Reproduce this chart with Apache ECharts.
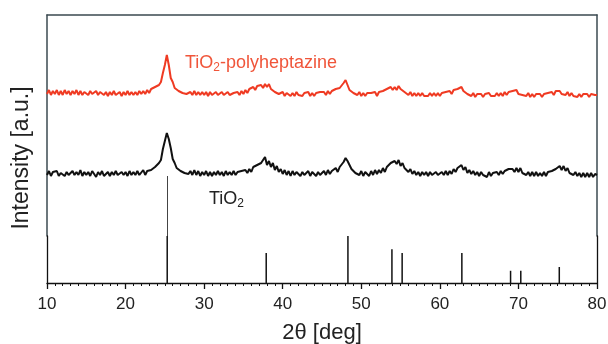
<!DOCTYPE html>
<html>
<head>
<meta charset="utf-8">
<script src="https://cdn.jsdelivr.net/npm/echarts@6/dist/echarts.min.js"></script>
<style>
  html, body { margin: 0; padding: 0; background: #fff; }
  #chart { width: 608px; height: 344px; }
</style>
</head>
<body>
<div id="chart"></div>
<script>
// 2theta scan, one reading every 0.25 deg from 10 to 80
const thetaStart = 10;
const thetaStep = 0.25;

// TiO2 trace (a.u.)
const tio2 = [
  61, 65, 60, 64,  62, 65, 60, 63,  65, 60, 64, 61,  60, 65, 61, 64,
  61, 66, 60, 64,  61, 64, 60, 65,  62, 59, 64, 61,  65, 60, 62, 64,
  60, 64, 61, 65,  61, 59, 64, 61,  64, 60, 65, 61,  64, 61, 65, 61,
  63, 66, 61, 65,  63, 66, 65, 69,  68, 73, 76, 87,  95, 103, 97, 88,
  77, 73, 68, 68,  65, 66, 63, 65,  62, 65, 61, 66,  61, 65, 60, 64,
  61, 65, 60, 64,  60, 64, 61, 65,  61, 64, 60, 65,  61, 64, 61, 65,
  61, 64, 62, 65,  63, 66, 63, 67,  64, 69, 68, 71,  70, 73, 72, 79,
  71, 75, 69, 73,  66, 70, 64, 67,  62, 66, 61, 65,  60, 65, 61, 64,
  65, 60, 64, 61,  61, 65, 60, 64,  65, 60, 64, 61,  62, 65, 61, 66,
  62, 65, 63, 68,  64, 69, 69, 74,  78, 75, 73, 67,  67, 63, 65, 61,
  65, 60, 64, 62,  60, 65, 61, 66,  62, 66, 63, 68,  64, 69, 68, 73,
  71, 75, 72, 76,  70, 73, 68, 69,  64, 67, 62, 65,  61, 64, 60, 64,
  61, 64, 60, 64,  61, 60, 64, 61,  60, 64, 61, 65,  61, 65, 62, 67,
  64, 68, 68, 71,  66, 69, 63, 66,  62, 65, 61, 64,  60, 64, 61, 63,
  59, 64, 60, 63,  61, 64, 61, 65,  62, 65, 63, 67,  65, 67, 64, 68,
  64, 68, 63, 65,  61, 64, 60, 64,  60, 64, 60, 63,  60, 64, 60, 64,
  62, 65, 63, 67,  65, 70, 66, 70,  65, 68, 63, 65,  61, 64, 60, 63,
  59, 63, 59, 63,  59, 63, 59, 62,  61
];

// TiO2-polyheptazine trace (a.u.)
const tio2Hep = [
  142, 146, 141, 145,  142, 146, 141, 145,  141, 146, 142, 145,  141, 145, 142, 146,
  141, 145, 141, 144,  146, 141, 145, 142,  141, 145, 141, 144,  145, 141, 144, 140,
  144, 141, 145, 141,  141, 144, 140, 144,  141, 145, 141, 144,  141, 144, 141, 145,
  142, 145, 142, 146,  143, 147, 145, 149,  147, 151, 154, 163,  171, 181, 171, 158,
  154, 148, 148, 145,  146, 143, 145, 142,  141, 144, 141, 145,  141, 144, 141, 144,
  141, 144, 140, 144,  141, 140, 144, 141,  140, 144, 141, 140,  144, 141, 140, 143,
  141, 144, 141, 145,  142, 146, 143, 147,  145, 149, 146, 150,  148, 151, 148, 152,
  149, 152, 147, 147,  144, 145, 142, 143,  144, 140, 143, 142,  140, 143, 140, 144,
  141, 142, 140, 143,  141, 144, 140, 143,  140, 143, 141, 144,  142, 144, 141, 145,
  142, 145, 144, 147,  145, 148, 148, 153,  156, 151, 146, 146,  143, 144, 141, 144,
  140, 143, 140, 143,  141, 143, 141, 144,  140, 144, 142, 145,  144, 147, 146, 149,
  146, 149, 146, 150,  147, 148, 144, 144,  141, 144, 140, 143,  140, 143, 140, 143,
  140, 142, 140, 143,  140, 143, 140, 143,  140, 143, 141, 144,  142, 145, 142, 146,
  144, 147, 146, 149,  145, 146, 142, 143,  140, 143, 139, 142,  141, 142, 139, 142,
  140, 143, 140, 142,  140, 143, 140, 143,  140, 144, 141, 144,  143, 145, 143, 146,
  142, 144, 141, 143,  140, 143, 139, 142,  139, 142, 140, 142,  139, 142, 140, 143,
  141, 144, 141, 145,  143, 145, 142, 144,  141, 144, 140, 143,  140, 142, 139, 142,
  139, 142, 140, 142,  139, 142, 140, 141,  141
];

// reference stick pattern (anatase)
const refPos = [25.3, 37.9, 48.3, 53.9, 55.2, 62.8, 69.0, 70.3, 75.2];
const refInt = [100, 64, 100, 72, 64, 64, 26, 26, 34];

const xMin = 10, xMax = 80, xInterval = 10;

const toPairs = arr => arr.map((v, i) => [thetaStart + i * thetaStep, v]);

const frameColor = '#3b4a50';
const font = 'Liberation Sans, Arial, sans-serif';

const chart = echarts.init(document.getElementById('chart'));

const option = {
  animation: false,
  backgroundColor: '#fff',
  grid: [
    { left: 47, right: 11, top: 15, height: 221, outerBoundsMode: 'none' },
    { left: 47, right: 11, top: 236, height: 47, outerBoundsMode: 'none' }
  ],
  xAxis: [
    {
      gridIndex: 0, type: 'value', min: xMin, max: xMax, position: 'top',
      axisLine: { show: true, onZero: false, lineStyle: { color: frameColor, width: 1.5 } },
      axisTick: { show: false }, axisLabel: { show: false }, splitLine: { show: false }
    },
    {
      gridIndex: 1, type: 'value', min: xMin, max: xMax, interval: xInterval,
      axisLine: { show: true, onZero: false, lineStyle: { color: '#111', width: 1.3 } },
      axisTick: { show: true, length: 6, lineStyle: { color: '#111', width: 1.3 } },
      minorTick: { show: true, splitNumber: 10, length: 3, lineStyle: { color: '#111', width: 1 } },
      axisLabel: { margin: 13, fontSize: 17, color: '#222', fontFamily: font },
      splitLine: { show: false },
      name: '2\u03b8 [deg]', nameLocation: 'middle', nameGap: 39,
      nameTextStyle: { fontSize: 22, color: '#222', fontFamily: font }
    }
  ],
  yAxis: [
    {
      gridIndex: 0, type: 'value', min: 0, max: 221, position: 'left',
      axisLine: { show: true, onZero: false, lineStyle: { color: frameColor, width: 1.5 } },
      axisTick: { show: false }, axisLabel: { show: false }, splitLine: { show: false }
    },
    {
      gridIndex: 0, type: 'value', min: 0, max: 221, position: 'right',
      axisLine: { show: true, onZero: false, lineStyle: { color: frameColor, width: 1.5 } },
      axisTick: { show: false }, axisLabel: { show: false }, splitLine: { show: false }
    },
    {
      gridIndex: 1, type: 'value', min: 0, max: 100, position: 'left',
      axisLine: { show: true, onZero: false, lineStyle: { color: '#111', width: 1.3 } },
      axisTick: { show: false }, axisLabel: { show: false }, splitLine: { show: false }
    },
    {
      gridIndex: 1, type: 'value', min: 0, max: 100, position: 'right',
      axisLine: { show: true, onZero: false, lineStyle: { color: '#111', width: 1.3 } },
      axisTick: { show: false }, axisLabel: { show: false }, splitLine: { show: false }
    }
  ],
  graphic: [
    {
      type: 'text', x: 22, y: 158, rotation: Math.PI / 2,
      style: {
        text: 'Intensity [a.u.]', fill: '#222', font: '23px ' + font,
        align: 'center', verticalAlign: 'middle'
      }
    },
    {
      type: 'text', x: 185, y: 63,
      style: {
        text: '{a|TiO}{s|2}{a|-polyheptazine}',
        verticalAlign: 'middle',
        rich: {
          a: { fontSize: 18, fill: '#f0553a', fontFamily: font },
          s: { fontSize: 12, fill: '#f0553a', fontFamily: font, padding: [9, 0, 0, 0] }
        }
      }
    },
    {
      type: 'text', x: 209, y: 199,
      style: {
        text: '{a|TiO}{s|2}',
        verticalAlign: 'middle',
        rich: {
          a: { fontSize: 18, fill: '#222', fontFamily: font },
          s: { fontSize: 12, fill: '#222', fontFamily: font, padding: [9, 0, 0, 0] }
        }
      }
    }
  ],
  series: [
    {
      type: 'line', xAxisIndex: 0, yAxisIndex: 0, data: toPairs(tio2),
      showSymbol: false, lineStyle: { color: '#111', width: 2 },
      markLine: {
        silent: true, symbol: 'none', label: { show: false },
        lineStyle: { color: '#444', width: 1, type: 'solid' },
        data: [[{ coord: [refPos[0], 0] }, { coord: [refPos[0], 60] }]]
      }
    },
    {
      type: 'line', xAxisIndex: 0, yAxisIndex: 0, data: toPairs(tio2Hep),
      showSymbol: false, lineStyle: { color: '#ef3a22', width: 2 }
    },
    {
      type: 'bar', xAxisIndex: 1, yAxisIndex: 2,
      data: refPos.map((p, i) => [p, refInt[i]]),
      barWidth: 1.5, itemStyle: { color: '#111' }
    }
  ]
};

chart.setOption(option);
</script>
</body>
</html>
